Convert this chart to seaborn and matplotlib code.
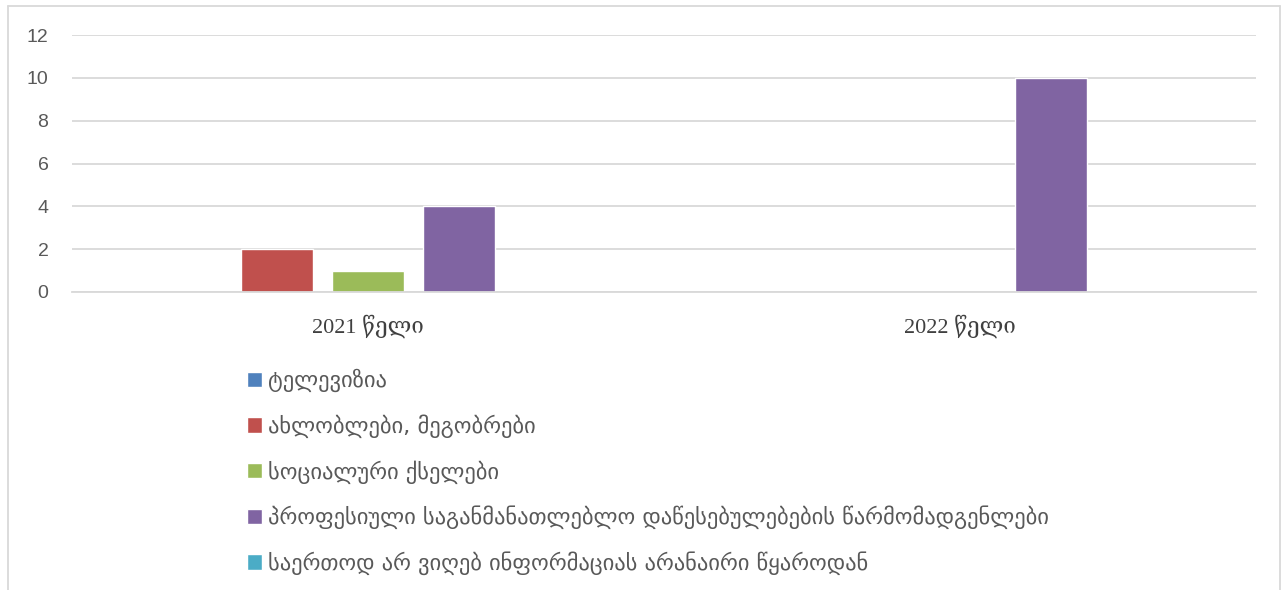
import matplotlib
matplotlib.use("Agg")
import matplotlib.pyplot as plt
import seaborn as sns
import pandas as pd
from matplotlib.lines import Line2D

categories = ["2021 წელი", "2022 წელი"]
series = [
    "ტელევიზია",
    "ახლობლები, მეგობრები",
    "სოციალური ქსელები",
    "პროფესიული საგანმანათლებლო დაწესებულებების წარმომადგენლები",
    "საერთოდ არ ვიღებ ინფორმაციას არანაირი წყაროდან",
]
tv = [0, 0]
friends = [2, 0]
social = [1, 0]
professional = [4, 10]
none_src = [0, 0]
colors = ["#4F81BD", "#C0504D", "#9BBB59", "#8064A2", "#4BACC6"]
yticks = [0, 2, 4, 6, 8, 10, 12]

values = [tv, friends, social, professional, none_src]
rows = []
for name, vals in zip(series, values):
    for cat, v in zip(categories, vals):
        rows.append({"year": cat, "source": name, "value": v})
df = pd.DataFrame(rows)

sns.set_theme(style="white")
plt.rcParams["font.family"] = ["DejaVu Sans"]

W, H = 1283, 590
fig = plt.figure(figsize=(W / 100, H / 100), dpi=100)
ax = fig.add_axes([72 / W, 1 - 292 / H, (1256 - 72) / W, (292 - 35) / H])

sns.barplot(data=df, x="year", y="value", hue="source", hue_order=series,
            order=categories, palette=colors, width=0.768, gap=0.21,
            saturation=1, ax=ax, legend=True)

ax.set_ylim(0, 12)
ax.set_yticks(yticks)
ax.set_yticklabels([str(t) for t in yticks], fontsize=14, color="#595959",
                   family=["Liberation Sans", "DejaVu Sans"])
ax.set_xticklabels(categories, fontsize=16, color="#404040",
                   family=["Liberation Serif", "DejaVu Serif"])
ax.set_xlabel("")
ax.set_ylabel("")
ax.tick_params(axis="both", length=0)
ax.tick_params(axis="y", pad=17)
ax.tick_params(axis="x", pad=16)
ax.yaxis.grid(True, color="#D9D9D9", linewidth=1.3)
ax.set_axisbelow(True)
for s in ["top", "right", "left"]:
    ax.spines[s].set_visible(False)
ax.spines["bottom"].set_color("#D9D9D9")
ax.spines["bottom"].set_linewidth(1.3)

handles, labels = ax.get_legend_handles_labels()
ax.get_legend().remove()
leg = fig.legend(handles, labels, loc="upper left",
                 bbox_to_anchor=(238 / W, 1 - 360 / H), frameon=False,
                 borderaxespad=0, handlelength=0.68, handleheight=0.68,
                 handletextpad=0.25, labelspacing=0.98,
                 prop={"family": ["DejaVu Sans"], "size": 16.2})
for t in leg.get_texts():
    t.set_color("#595959")

# outer chart border
bc = "#D9D9D9"
fig.add_artist(Line2D([8 / W, 8 / W], [0, 1 - 6 / H], transform=fig.transFigure, color=bc, lw=1.3))
fig.add_artist(Line2D([8 / W, 1280 / W], [1 - 6 / H, 1 - 6 / H], transform=fig.transFigure, color=bc, lw=1.3))
fig.add_artist(Line2D([1280 / W, 1280 / W], [0, 1 - 6 / H], transform=fig.transFigure, color=bc, lw=1.3))

fig.savefig("out.png", dpi=100)
